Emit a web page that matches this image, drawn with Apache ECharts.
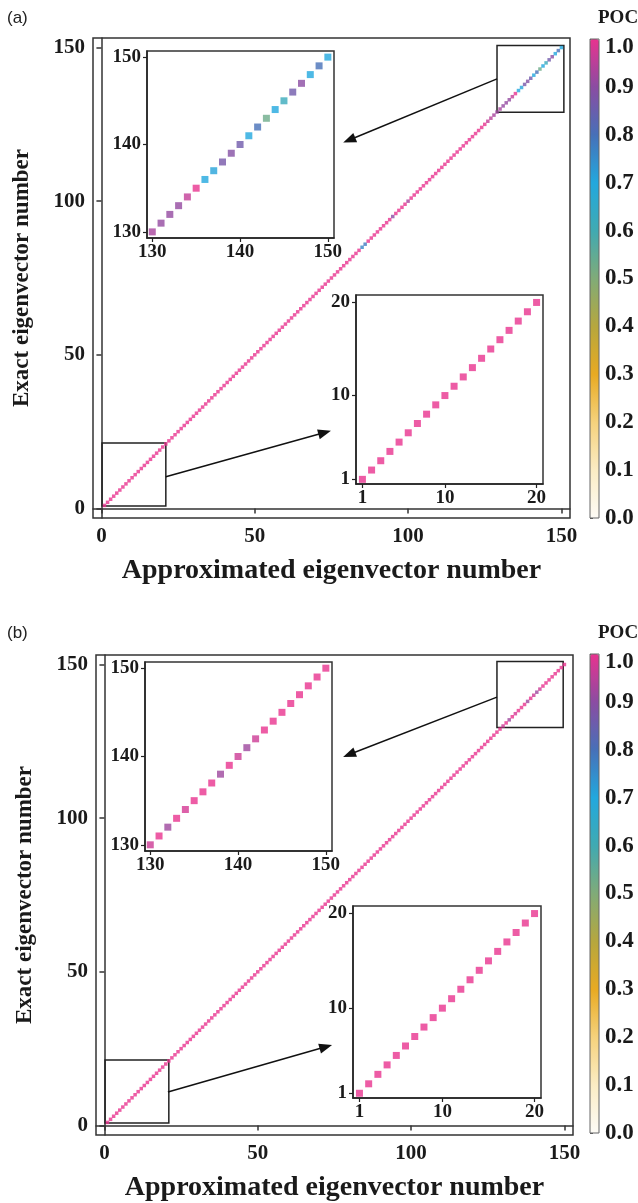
<!DOCTYPE html>
<html>
<head>
<meta charset="utf-8">
<title>POC of approximated eigenvectors</title>
<script src="https://cdn.jsdelivr.net/npm/echarts@6/dist/echarts.min.js"></script>
<style>
  html, body { margin: 0; padding: 0; background: #ffffff; }
  #chart { width: 638px; height: 1203px; }
</style>
</head>
<body>
<div id="chart"></div>
<script>
// Eigenvector indices (approximated = exact along the diagonal)
const approxNumber = [
  1, 2, 3, 4, 5, 6, 7, 8, 9, 10, 11, 12, 13, 14, 15, 16, 17, 18, 19, 20,
  21, 22, 23, 24, 25, 26, 27, 28, 29, 30, 31, 32, 33, 34, 35, 36, 37, 38, 39, 40,
  41, 42, 43, 44, 45, 46, 47, 48, 49, 50, 51, 52, 53, 54, 55, 56, 57, 58, 59, 60,
  61, 62, 63, 64, 65, 66, 67, 68, 69, 70, 71, 72, 73, 74, 75, 76, 77, 78, 79, 80,
  81, 82, 83, 84, 85, 86, 87, 88, 89, 90, 91, 92, 93, 94, 95, 96, 97, 98, 99, 100,
  101, 102, 103, 104, 105, 106, 107, 108, 109, 110, 111, 112, 113, 114, 115, 116, 117, 118, 119, 120,
  121, 122, 123, 124, 125, 126, 127, 128, 129, 130, 131, 132, 133, 134, 135, 136, 137, 138, 139, 140,
  141, 142, 143, 144, 145, 146, 147, 148, 149, 150
];
const exactNumber = [
  1, 2, 3, 4, 5, 6, 7, 8, 9, 10, 11, 12, 13, 14, 15, 16, 17, 18, 19, 20,
  21, 22, 23, 24, 25, 26, 27, 28, 29, 30, 31, 32, 33, 34, 35, 36, 37, 38, 39, 40,
  41, 42, 43, 44, 45, 46, 47, 48, 49, 50, 51, 52, 53, 54, 55, 56, 57, 58, 59, 60,
  61, 62, 63, 64, 65, 66, 67, 68, 69, 70, 71, 72, 73, 74, 75, 76, 77, 78, 79, 80,
  81, 82, 83, 84, 85, 86, 87, 88, 89, 90, 91, 92, 93, 94, 95, 96, 97, 98, 99, 100,
  101, 102, 103, 104, 105, 106, 107, 108, 109, 110, 111, 112, 113, 114, 115, 116, 117, 118, 119, 120,
  121, 122, 123, 124, 125, 126, 127, 128, 129, 130, 131, 132, 133, 134, 135, 136, 137, 138, 139, 140,
  141, 142, 143, 144, 145, 146, 147, 148, 149, 150
];

// POC per eigenvector, case (a)
const pocA = [
  1, 1, 1, 1, 1, 1, 1, 1, 1, 1, 1, 1, 1, 1, 1, 1, 1, 1, 1, 1,
  1, 1, 1, 1, 1, 1, 1, 1, 1, 1, 1, 1, 1, 1, 1, 1, 1, 1, 1, 1,
  1, 1, 1, 1, 1, 1, 1, 1, 1, 1, 1, 1, 1, 1, 1, 1, 1, 1, 1, 1,
  1, 1, 1, 1, 1, 1, 1, 1, 1, 1, 1, 1, 1, 1, 1, 1, 1, 1, 1, 1,
  1, 1, 1, 1, 0.76, 0.78, 1, 1, 1, 1, 1, 1, 1, 1, 0.9, 1, 1, 1, 1, 0.93,
  1, 1, 1, 1, 1, 1, 1, 1, 1, 1, 1, 1, 1, 1, 1, 1, 1, 1, 1, 1,
  1, 1, 1, 1, 1, 0.96, 0.95, 0.93, 0.92, 0.93, 0.91, 0.91, 0.91, 0.96, 1, 0.7, 0.71, 0.87, 0.89, 0.86,
  0.7, 0.8, 0.53, 0.7, 0.62, 0.86, 0.9, 0.7, 0.8, 0.7
];

// POC per eigenvector, case (b)
const pocB = [
  1, 1, 1, 1, 1, 1, 1, 1, 1, 1, 1, 1, 1, 1, 1, 1, 1, 1, 1, 1,
  1, 1, 1, 1, 1, 1, 1, 1, 1, 1, 1, 1, 1, 1, 1, 1, 1, 1, 1, 1,
  1, 1, 1, 1, 1, 1, 1, 1, 1, 1, 1, 1, 1, 1, 1, 1, 1, 1, 1, 1,
  1, 1, 1, 1, 1, 1, 1, 1, 1, 1, 1, 1, 1, 1, 1, 1, 1, 1, 1, 1,
  1, 1, 1, 1, 1, 1, 1, 1, 1, 1, 1, 1, 1, 1, 1, 1, 1, 1, 1, 1,
  1, 1, 1, 1, 1, 1, 1, 1, 1, 1, 1, 1, 1, 1, 1, 1, 1, 1, 1, 1,
  1, 1, 1, 1, 1, 1, 1, 1, 1, 0.97, 1, 0.92, 1, 0.98, 1, 1, 1, 0.92, 1, 0.97,
  0.92, 0.97, 1, 1, 1, 1, 1, 1, 1, 1
];

const mainTicks = [0, 50, 100, 150];
const topInsetTicks = [130, 140, 150];
const bottomInsetTicks = [1, 10, 20];

// Colour scale from POC = 0 (near white) to POC = 1 (magenta)
const pocColors = [
  '#fdfbf6', '#fbecc4', '#f5d27c', '#e8aa22', '#b6a73e', '#80ab78',
  '#40aab2', '#22a8de', '#4770b8', '#8b4ca2', '#e8338f'
];

const serif = '"Liberation Serif", "Times New Roman", serif';
const sans = '"Liberation Sans", Arial, sans-serif';
const ink = '#1a1a1a';

function triples(poc) {
  return approxNumber.map((x, i) => [x, exactNumber[i], poc[i]]);
}

function mainAxes(gridIndex) {
  return {
    x: {
      type: 'value', gridIndex, min: -2.75, max: 152.8,
      name: 'Approximated eigenvector number', nameLocation: 'middle', nameGap: 39,
      nameTextStyle: { fontFamily: serif, fontWeight: 'bold', fontSize: 28, color: ink },
      axisLine: { show: true, lineStyle: { color: '#333', width: 1.5 } },
      axisTick: { show: true, length: 5, customValues: mainTicks, lineStyle: { color: '#333', width: 1.5 } },
      axisLabel: { customValues: mainTicks, fontFamily: serif, fontWeight: 'bold', fontSize: 21, color: ink, margin: 8 },
      splitLine: { show: false }
    },
    y: {
      type: 'value', gridIndex, min: -3.1, max: 153.1,
      name: 'Exact eigenvector number', nameLocation: 'middle', nameGap: 59,
      nameTextStyle: { fontFamily: serif, fontWeight: 'bold', fontSize: 23, color: ink },
      axisLine: { show: true, lineStyle: { color: '#333', width: 1.5 } },
      axisTick: { show: true, length: 5, customValues: mainTicks, lineStyle: { color: '#333', width: 1.5 } },
      axisLabel: { customValues: mainTicks, fontFamily: serif, fontWeight: 'bold', fontSize: 21, color: ink, margin: 8 },
      splitLine: { show: false }
    }
  };
}

function insetAxis(dim, gridIndex, min, max, ticks) {
  return {
    type: 'value', gridIndex, min, max,
    axisLine: { show: true, lineStyle: { color: '#222', width: 1.5 } },
    axisTick: { show: true, length: 4, customValues: ticks, lineStyle: { color: '#222', width: 1.2 } },
    axisLabel: { customValues: ticks, fontFamily: serif, fontWeight: 'bold', fontSize: 19, color: ink, margin: dim === 'x' ? 5 : 6 },
    splitLine: { show: false }
  };
}

const pocLabelFont = { fontFamily: serif, fontWeight: 'bold', fontSize: 23, color: ink };

function pocAxes(gridIndex) {
  return {
    x: { type: 'value', gridIndex, show: false, min: 0, max: 1 },
    y: {
      type: 'value', gridIndex, min: 0, max: 1, interval: 0.1, position: 'right',
      axisLine: { show: false },
      axisTick: { show: true, inside: false, length: 3, lineStyle: { color: '#555', width: 1 } },
      axisLabel: Object.assign({
        margin: 6,
        // the top label sits just below the end of the bar
        formatter: v => (v >= 1 ? '{top|' + v.toFixed(1) + '}' : v.toFixed(1)),
        rich: { top: Object.assign({ padding: [16, 0, 0, 0] }, pocLabelFont) }
      }, pocLabelFont),
      splitLine: { show: false }
    }
  };
}

const frame = {
  show: true, borderColor: '#333', borderWidth: 1.5, backgroundColor: '#fff',
  containLabel: false, outerBoundsMode: 'none'
};

// Panel geometry: main plot, upper-left inset, lower-right inset, colour bar, boxes and arrows
const panels = [
  {
    label: '(a)', poc: pocA, dy: 0,
    main: { left: 93, top: 38 },
    insetTop: { left: 147, top: 51, width: 187, height: 187 },
    insetBottom: { left: 356, top: 295, width: 187, height: 189 },
    boxLow: [[0.2, 0.8], [21, 21.3]],
    boxHigh: [[129, 128.9], [150.8, 150.7]],
    arrowLow: [[21, 10.3], [72.8, 24.7]],
    arrowHigh: [[129, 139.8], [80.8, 119.9]]
  },
  {
    label: '(b)', poc: pocB, dy: 615,
    main: { left: 96, top: 655 },
    insetTop: { left: 145, top: 662, width: 187, height: 189 },
    insetBottom: { left: 353, top: 906, width: 188, height: 192 },
    boxLow: [[0.2, 0.8], [21, 21.3]],
    boxHigh: [[128, 129.5], [149.6, 151]],
    arrowLow: [[20.7, 10.9], [72.2, 25.6]],
    arrowHigh: [[128, 139.4], [79.8, 120.7]]
  }
];

const grids = [], xAxes = [], yAxes = [], series = [], visualMaps = [], graphics = [];

panels.forEach((p) => {
  const base = grids.length;
  const dy = p.dy;
  grids.push(Object.assign({ left: p.main.left, top: p.main.top, width: 477, height: 480 }, frame));
  grids.push(Object.assign({}, p.insetTop, frame));
  grids.push(Object.assign({}, p.insetBottom, frame));
  // colour bar frame
  grids.push({
    left: 590, top: 39 + dy, width: 9, height: 479, show: true,
    borderColor: '#666', borderWidth: 1, backgroundColor: 'transparent', z: 5,
    containLabel: false, outerBoundsMode: 'none'
  });

  const m = mainAxes(base);
  xAxes.push(m.x); yAxes.push(m.y);
  xAxes.push(insetAxis('x', base + 1, 129.4, 150.7, topInsetTicks));
  yAxes.push(insetAxis('y', base + 1, 129.3, 150.7, topInsetTicks));
  xAxes.push(insetAxis('x', base + 2, 0.3, 20.7, bottomInsetTicks));
  yAxes.push(insetAxis('y', base + 2, 0.5, 20.8, bottomInsetTicks));
  const c = pocAxes(base + 3);
  xAxes.push(c.x); yAxes.push(c.y);

  const data = triples(p.poc);
  const sBase = series.length;
  series.push({
    type: 'scatter', xAxisIndex: base, yAxisIndex: base, data,
    symbol: 'rect', symbolSize: 3.5, clip: true, silent: true,
    markArea: {
      silent: true,
      itemStyle: { color: 'rgba(0,0,0,0)', borderColor: '#222', borderWidth: 1.5 },
      data: [
        [{ xAxis: p.boxLow[0][0], yAxis: p.boxLow[0][1] }, { xAxis: p.boxLow[1][0], yAxis: p.boxLow[1][1] }],
        [{ xAxis: p.boxHigh[0][0], yAxis: p.boxHigh[0][1] }, { xAxis: p.boxHigh[1][0], yAxis: p.boxHigh[1][1] }]
      ]
    },
    markLine: {
      silent: true,
      symbol: ['none', 'triangle'], symbolSize: [10, 13],
      label: { show: false },
      lineStyle: { color: '#111', width: 1.5, type: 'solid' },
      itemStyle: { color: '#111' },
      data: [
        [{ coord: p.arrowLow[0] }, { coord: p.arrowLow[1] }],
        [{ coord: p.arrowHigh[0] }, { coord: p.arrowHigh[1] }]
      ]
    }
  });
  series.push({
    type: 'scatter', xAxisIndex: base + 1, yAxisIndex: base + 1, data,
    symbol: 'rect', symbolSize: 7, clip: true, silent: true
  });
  series.push({
    type: 'scatter', xAxisIndex: base + 2, yAxisIndex: base + 2, data,
    symbol: 'rect', symbolSize: 7, clip: true, silent: true
  });

  visualMaps.push({
    type: 'continuous', min: 0, max: 1, dimension: 2,
    seriesIndex: [sBase, sBase + 1, sBase + 2],
    calculable: false, hoverLink: false, realtime: false,
    orient: 'vertical', left: 590, top: 39 + dy, itemWidth: 9, itemHeight: 479,
    padding: 0, text: null, showLabel: false,
    inRange: { color: pocColors }
  });

  graphics.push({
    type: 'text', left: 598, top: 9 + dy,
    style: { text: 'POC', font: 'bold 19px ' + serif, fill: ink }
  });
  graphics.push({
    type: 'text', left: 7, top: 10 + dy,
    style: { text: p.label, font: '17px ' + sans, fill: '#222' }
  });
});

const chart = echarts.init(document.getElementById('chart'), null, { renderer: 'canvas' });
chart.setOption({
  animation: false,
  backgroundColor: '#ffffff',
  grid: grids,
  xAxis: xAxes,
  yAxis: yAxes,
  visualMap: visualMaps,
  series,
  graphic: graphics
});
</script>
</body>
</html>
